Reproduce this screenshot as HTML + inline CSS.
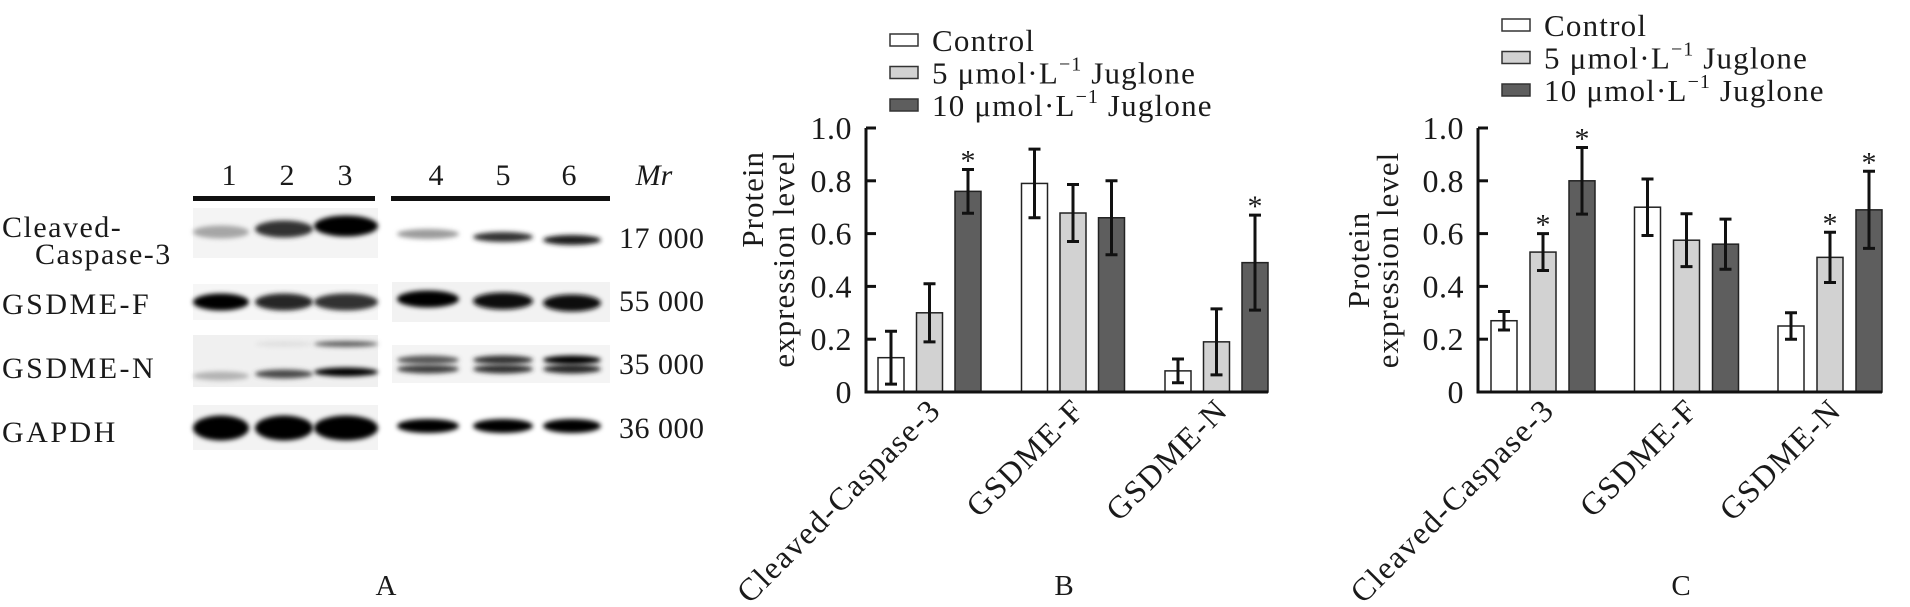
<!DOCTYPE html>
<html><head><meta charset="utf-8">
<style>
html,body{margin:0;padding:0;background:#fff;}
svg{display:block;font-family:"Liberation Serif",serif;}
text{fill:#1a1a1a;}
</style></head>
<body>
<svg id="fig" width="1910" height="607" viewBox="0 0 1910 607" xmlns="http://www.w3.org/2000/svg">
<defs>
<filter id="blur3" x="-30%" y="-100%" width="160%" height="300%"><feGaussianBlur stdDeviation="2.5"/></filter>
</defs>

<g id="panelA">
  <g font-size="30" text-anchor="middle">
    <text x="229" y="185">1</text>
    <text x="287" y="185">2</text>
    <text x="345" y="185">3</text>
    <text x="436" y="185">4</text>
    <text x="503" y="185">5</text>
    <text x="569" y="185">6</text>
    <text x="654" y="185" font-style="italic">Mr</text>
  </g>
  <rect x="193" y="196" width="182" height="5" fill="#111"/>
  <rect x="391" y="196" width="219" height="5" fill="#111"/>

  <g font-size="30" letter-spacing="1.5">
    <text x="2" y="237">Cleaved-</text>
    <text x="35" y="264">Caspase-3</text>
    <text x="2" y="314" letter-spacing="2.5">GSDME-F</text>
    <text x="2" y="378" letter-spacing="2.5">GSDME-N</text>
    <text x="2" y="442" letter-spacing="2.5">GAPDH</text>
  </g>
  <g font-size="30" letter-spacing="0.5">
    <text x="619" y="248">17 000</text>
    <text x="619" y="311">55 000</text>
    <text x="619" y="374">35 000</text>
    <text x="619" y="438">36 000</text>
  </g>

  <g>
    <rect x="193" y="208" width="185" height="50" fill="#f4f4f4"/>
    <rect x="193" y="284" width="185" height="36" fill="#f6f6f6"/>
    <rect x="193" y="335" width="185" height="52" fill="#f0f0f0"/>
    <rect x="193" y="405" width="185" height="45" fill="#f3f3f3"/>
    <rect x="392" y="282" width="218" height="40" fill="#f2f2f2"/>
    <rect x="392" y="345" width="218" height="38" fill="#f4f4f4"/>
  </g>
  <g id="bands"></g>

  <text x="386" y="595" font-size="29" text-anchor="middle">A</text>
</g>

<g id="chartB"></g>
<g id="chartC"></g>
</svg>

<script>
const categories = ["Cleaved-Caspase-3", "GSDME-F", "GSDME-N"];
const seriesNames = ["Control", "5 μmol·L", "10 μmol·L"];
const yTicks = [0, 0.2, 0.4, 0.6, 0.8, 1.0];
const yTickLabels = ["0", "0.2", "0.4", "0.6", "0.8", "1.0"];

const bControl = [0.13, 0.79, 0.08];
const bControlErr = [0.10, 0.13, 0.045];
const b5 = [0.30, 0.678, 0.19];
const b5Err = [0.11, 0.108, 0.125];
const b10 = [0.76, 0.66, 0.49];
const b10Err = [0.083, 0.14, 0.18];
const bStars = [[false, false, true], [false, false, false], [false, false, true]];

const cControl = [0.27, 0.70, 0.25];
const cControlErr = [0.035, 0.107, 0.05];
const c5 = [0.53, 0.575, 0.51];
const c5Err = [0.07, 0.10, 0.095];
const c10 = [0.80, 0.56, 0.69];
const c10Err = [0.126, 0.095, 0.146];
const cStars = [[false, true, true], [false, false, false], [false, true, true]];

const cc3Band = [0.3, 0.8, 1.0, 0.35, 0.8, 0.9];
const gsdmefBand = [1.0, 0.85, 0.8, 1.0, 0.95, 0.95];
const gsdmenLow = [0.25, 0.7, 1.0, 0.75, 0.8, 0.85];
const gsdmenHigh = [0.0, 0.05, 0.6, 0.65, 0.8, 1.0];
const gapdhBand = [1.0, 1.0, 1.0, 1.0, 1.0, 1.0];

const NS = "http://www.w3.org/2000/svg";
function mk(tag, attrs, parent) {
  const e = document.createElementNS(NS, tag);
  for (const k in attrs) e.setAttribute(k, attrs[k]);
  if (parent) parent.appendChild(e);
  return e;
}

const laneCx = [221, 284, 346, 428, 503, 572];
const laneW = [56, 58, 64, 62, 60, 58];
const bandsG = document.getElementById('bands');
function band(lane, cy, h, v, name) {
  if (v <= 0) return;
  const g = Math.round(235 - 230 * v);
  const e = mk('ellipse', {cx: laneCx[lane], cy: cy, rx: laneW[lane] / 2, ry: h / 2, fill: `rgb(${g},${g},${g})`, filter: 'url(#blur3)'}, bandsG);
  
  
}
for (let i = 0; i < 6; i++) {
  band(i, i < 3 ? 232 - i * 3 : 234 + (i - 3) * 3, i < 3 ? 13 + i * 4 : 10, cc3Band[i], 'band-cleaved-caspase3-' + (i + 1));
  band(i, i < 3 ? 302 : 299 + (i - 3) * 2, 17, gsdmefBand[i], 'band-gsdme-f-' + (i + 1));
  band(i, i < 3 ? 376 - i * 2 : 369, 9, gsdmenLow[i], 'band-gsdme-n-low-' + (i + 1));
  band(i, i < 3 ? 344 : 360, i < 3 ? 6 : 9, gsdmenHigh[i], 'band-gsdme-n-high-' + (i + 1));
  band(i, i < 3 ? 428 : 426, i < 3 ? 25 : 14, gapdhBand[i], 'band-gapdh-' + (i + 1));
}

const fills = ["#ffffff", "#d2d2d2", "#5e5e5e"];
function drawChart(root, cfg) {
  const y = v => cfg.y0 - v * (cfg.y0 - cfg.y1);
  const groupX = i => cfg.firstBar + i * cfg.groupStep;
  const barX = (i, s) => groupX(i) + s * cfg.barStep;
  const series = [cfg.s0, cfg.s1, cfg.s2];
  const errs = [cfg.e0, cfg.e1, cfg.e2];

  const leg = mk('g', {}, root);
  
  
  for (let s = 0; s < 3; s++) {
    const by = cfg.legY + s * cfg.legStep;
    const it = mk('g', {}, leg);
    
    
    mk('rect', {x: cfg.legX, y: by - 17, width: 28, height: 12, fill: fills[s], stroke: '#333', 'stroke-width': 1.5}, it);
    const t = mk('text', {x: cfg.legX + 42, y: by, 'font-size': 31, 'letter-spacing': 1.2}, it);
    t.textContent = seriesNames[s];
    if (s > 0) {
      const sup = mk('tspan', {dy: -13, 'font-size': 20, 'letter-spacing': 1}, t);
      sup.textContent = '\u22121';
      const rest = mk('tspan', {dy: 13, 'font-size': 31}, t);
      rest.textContent = ' Juglone';
    }
  }

  for (let i = 0; i < categories.length; i++) {
    for (let s = 0; s < 3; s++) {
      const v = series[s][i];
      const r = mk('rect', {x: barX(i, s), y: y(v), width: cfg.barW, height: cfg.y0 - y(v), fill: fills[s], stroke: '#222', 'stroke-width': 1.5}, root);
      
      
      const cx = barX(i, s) + cfg.barW / 2;
      const eHi = y(v + errs[s][i]), eLo = y(v - errs[s][i]);
      const eb = mk('path', {d: `M${cx},${eHi}V${eLo}M${cx - 6},${eHi}H${cx + 6}M${cx - 6},${eLo}H${cx + 6}`, stroke: '#111', 'stroke-width': 3, fill: 'none'}, root);
      
      
      if (cfg.stars[i][s]) {
        const st = mk('text', {x: cx, y: eHi + 1, 'font-size': 30, 'text-anchor': 'middle'}, root);
        
        
        st.textContent = '*';
      }
    }
    const lx = groupX(i) + cfg.barStep + cfg.barW / 2 + 13;
    const ly = 412;
    const lt = mk('text', {x: lx, y: ly, 'font-size': 32, 'letter-spacing': 1.5, 'text-anchor': 'end', transform: `rotate(-45 ${lx} ${ly})`}, root);
    
    
    lt.textContent = categories[i];
  }

  const ax = mk('path', {d: `M${cfg.axisX},${cfg.y1}V${cfg.y0}H${cfg.axisEnd}`, stroke: '#111', 'stroke-width': 3, fill: 'none'}, root);
  
  
  for (let k = 0; k < yTicks.length; k++) {
    const ty = y(yTicks[k]);
    const tk = mk('line', {x1: cfg.axisX, x2: cfg.axisX + 10, y1: ty, y2: ty, stroke: '#111', 'stroke-width': 3}, root);
    
    
    const tl = mk('text', {x: cfg.axisX - 14, y: ty + 11, 'font-size': 32, 'letter-spacing': 0.5, 'text-anchor': 'end'}, root);
    
    
    tl.textContent = yTickLabels[k];
  }

  const yt = mk('g', {}, root);
  
  
  const t1 = mk('text', {x: cfg.ytX1, y: cfg.ytY, 'font-size': 31, 'letter-spacing': 1, 'text-anchor': cfg.ytAnchor, transform: `rotate(-90 ${cfg.ytX1} ${cfg.ytY})`}, yt);
  t1.textContent = 'Protein';
  const t2 = mk('text', {x: cfg.ytX2, y: cfg.ytY, 'font-size': 31, 'letter-spacing': 1, 'text-anchor': cfg.ytAnchor, transform: `rotate(-90 ${cfg.ytX2} ${cfg.ytY})`}, yt);
  t2.textContent = 'expression level';

  const pl = mk('text', {x: cfg.panelX, y: 595, 'font-size': 29, 'text-anchor': 'middle'}, root);
  
  
  pl.textContent = cfg.panel;
}

drawChart(document.getElementById('chartB'), {
  y0: 392, y1: 128, axisX: 866, axisEnd: 1268, firstBar: 878, groupStep: 143.5, barStep: 38.5, barW: 26,
  s0: bControl, s1: b5, s2: b10, e0: bControlErr, e1: b5Err, e2: b10Err, stars: bStars,
  legX: 890, legY: 51, legStep: 32.5, ytX1: 763, ytX2: 794, ytY: 151, ytAnchor: 'end', panelX: 1064, panel: 'B'
});
drawChart(document.getElementById('chartC'), {
  y0: 392, y1: 128, axisX: 1478, axisEnd: 1882, firstBar: 1491, groupStep: 143.5, barStep: 39, barW: 26,
  s0: cControl, s1: c5, s2: c10, e0: cControlErr, e1: c5Err, e2: c10Err, stars: cStars,
  legX: 1502, legY: 36, legStep: 32.5, ytX1: 1369, ytX2: 1398, ytY: 260, ytAnchor: 'middle', panelX: 1681, panel: 'C'
});
</script>
</body></html>
